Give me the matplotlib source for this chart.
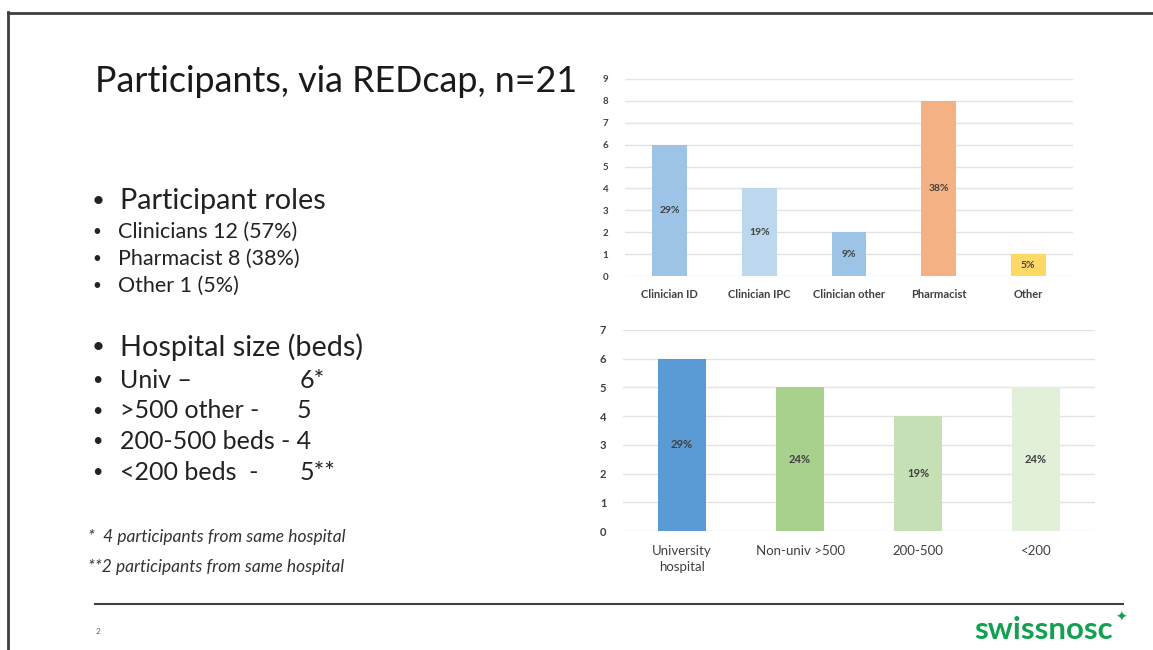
import matplotlib
matplotlib.use("Agg")
import matplotlib.pyplot as plt
from matplotlib.lines import Line2D

W, H = 1153, 650

# participant roles (top chart)
role_names = ["Clinician ID", "Clinician IPC", "Clinician other", "Pharmacist", "Other"]
role_counts = [6, 4, 2, 8, 1]
role_pct = ["29%", "19%", "9%", "38%", "5%"]
role_colors = ["#9dc3e6", "#bdd7ee", "#9dc3e6", "#f4b183", "#ffd966"]

# hospital size (bottom chart)
size_names = ["University\nhospital", "Non-univ >500", "200-500", "<200"]
size_counts = [6, 5, 4, 5]
size_pct = ["29%", "24%", "19%", "24%"]
size_colors = ["#5b9bd5", "#a9d18e", "#c5e0b4", "#e2f0d9"]

# slide text
title = "Participants, via REDcap, n=21"
roles_head = "Participant roles"
roles_items = ["Clinicians 12 (57%)", "Pharmacist 8 (38%)", "Other 1 (5%)"]
size_head = "Hospital size (beds)"
size_items = ["Univ \u2013", ">500 other -", "200-500 beds - 4", "<200 beds  -"]
size_values = ["6*", "5", "", "5**"]
notes = ["*  4 participants from same hospital", "**2 participants from same hospital"]

plt.rcParams["font.family"] = ["Lato", "DejaVu Sans"]

fig = plt.figure(figsize=(W / 100, H / 100), dpi=100)
fig.patch.set_facecolor("white")


def fx(px):
    return px / W


def fy(py):
    return 1 - py / H


def txt(x, y, s, **kw):
    fig.text(fx(x), fy(y), s, va="center", ha=kw.pop("ha", "left"), **kw)


# slide frame and footer rule
fig.add_artist(Line2D([fx(8), fx(8)], [fy(12), 0], color="#404040", lw=2))
fig.add_artist(Line2D([fx(8), 1], [fy(12.5), fy(12.5)], color="#404040", lw=2))
fig.add_artist(Line2D([fx(95), fx(1123)], [fy(604), fy(604)], color="#404040", lw=1.5))

txt(95, 81, title, fontsize=25.8, color="#1a1a1a")

dark = "#222222"
txt(92, 201, "\u2022", fontsize=16, color=dark)
txt(120, 201, roles_head, fontsize=20.8, color=dark)
for i, item in enumerate(roles_items):
    y = 232 + i * 27
    txt(92, y, "\u2022", fontsize=11, color=dark)
    txt(118, y, item, fontsize=15.5, color=dark)

txt(92, 347, "\u2022", fontsize=16, color=dark)
txt(120, 347, size_head, fontsize=20.8, color=dark)
for i, (item, val) in enumerate(zip(size_items, size_values)):
    y = 380 + i * 30.7
    txt(92, y, "\u2022", fontsize=13, color=dark)
    txt(120, y, item, fontsize=18, color=dark)
    if val:
        txt(300 if i != 1 else 297, y, val, fontsize=18, color=dark)

for i, note in enumerate(notes):
    txt(88, 537 + i * 30, note, fontsize=12.5, style="italic", color="#333333")

txt(96, 632, "2", fontsize=6, color="#5a6a8a")
txt(1113, 630, "swissnosc", ha="right", fontsize=22.5, fontweight="bold", color="#12a150")
txt(1121, 618, "\u2726", ha="center", fontsize=10, color="#12a150",
    family=["DejaVu Sans"])


def bar_chart(rect, names, counts, labels, colors, ymax, width, tick_fs, ytick_fs,
              lab_fs, tick_weight, pad):
    ax = fig.add_axes(rect)
    x = range(len(names))
    ax.bar(x, counts, width=width, color=colors, zorder=3)
    for xi, c, lab in zip(x, counts, labels):
        ax.text(xi, c / 2, lab, ha="center", va="center", fontsize=lab_fs,
                color="#404040", fontweight="bold", zorder=4)
    ax.set_xlim(-0.5, len(names) - 0.5)
    ax.set_ylim(0, ymax)
    ax.set_yticks(range(ymax + 1))
    ax.set_xticks(list(x))
    ax.set_xticklabels(names, fontsize=tick_fs, color="#404040", linespacing=1.4,
                       fontweight=tick_weight)
    ax.set_yticklabels([str(v) for v in range(ymax + 1)], fontsize=ytick_fs,
                       color="#404040", fontweight="bold")
    ax.tick_params(axis="y", length=0, pad=12)
    ax.tick_params(axis="x", length=0, pad=pad)
    ax.grid(axis="y", color="#e3e3e3", lw=1, zorder=0)
    for s in ax.spines.values():
        s.set_visible(False)
    ax.set_facecolor("none")
    return ax


bar_chart([fx(625), fy(276), fx(1073) - fx(625), fy(79) - fy(276)],
          role_names, role_counts, role_pct, role_colors, 9, 0.39, 8, 7, 7.5, "bold", 9)
bar_chart([fx(623), fy(531), fx(1095) - fx(623), fy(330) - fy(531)],
          size_names, size_counts, size_pct, size_colors, 7, 0.40, 9.5, 8, 8, "normal", 10)

fig.savefig("out.png", dpi=100, facecolor="white")
